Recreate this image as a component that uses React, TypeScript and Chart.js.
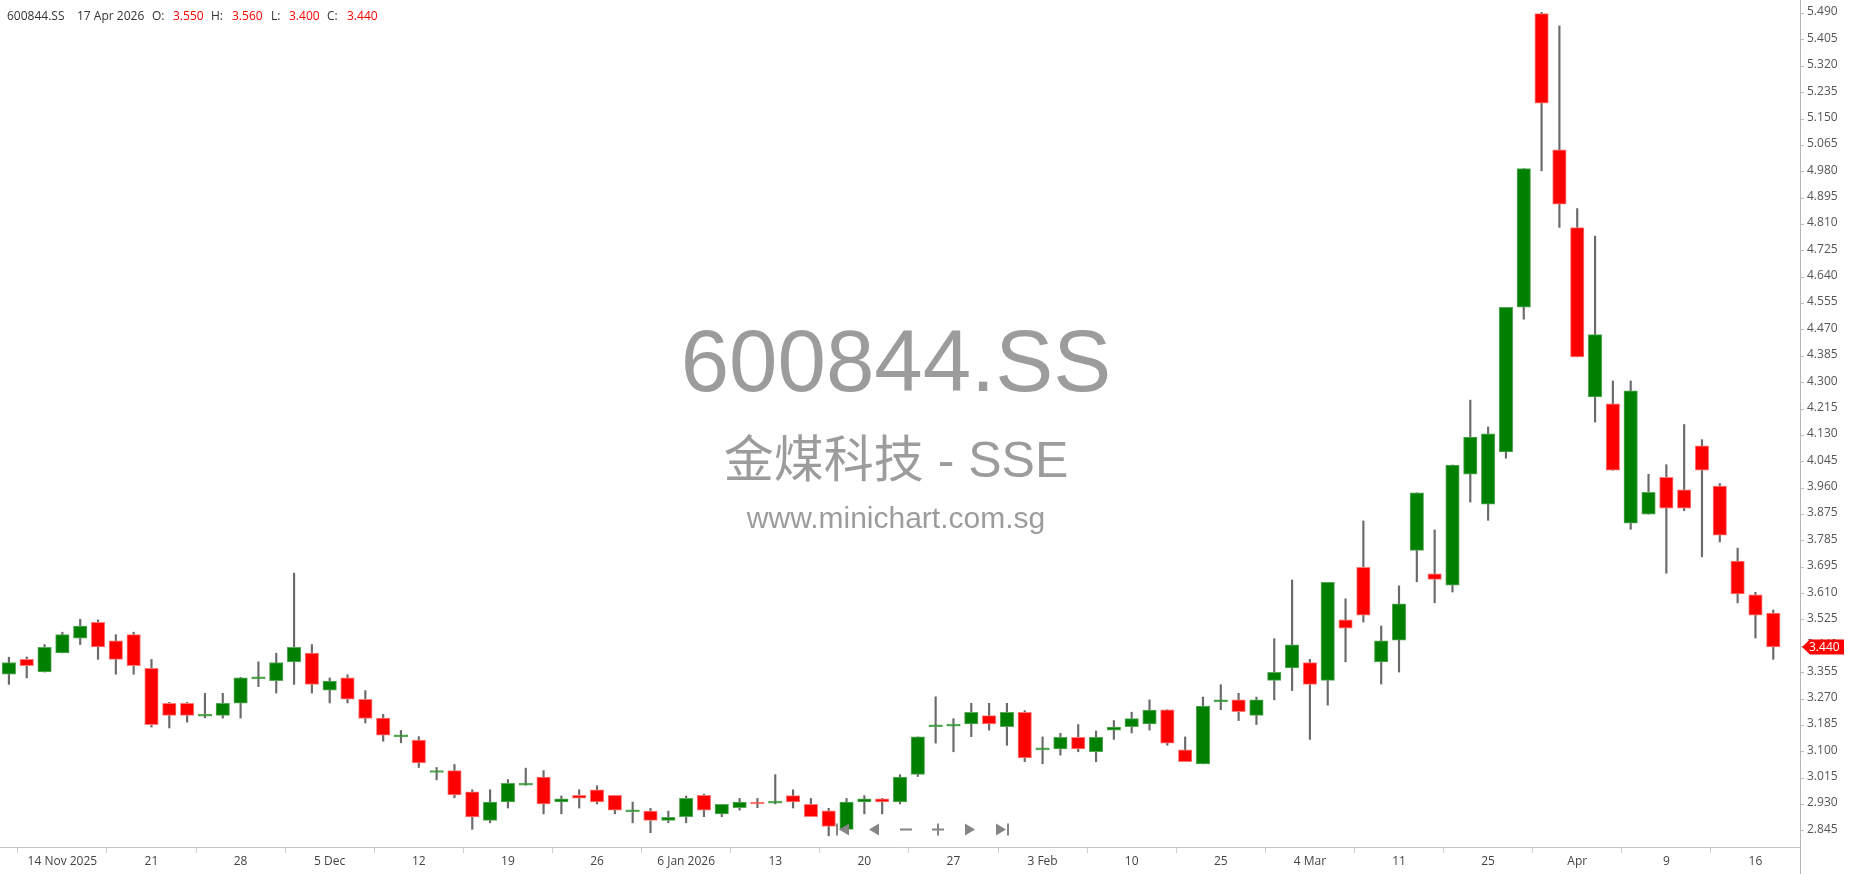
import React, { useEffect, useRef } from 'react';
import { Chart, registerables } from 'chart.js';

Chart.register(...registerables);

const symbol = '600844.SS';
const nameLine = '金煤科技 - SSE';
const siteLine = 'www.minichart.com.sg';
const lastDateLabel = '17 Apr 2026';

const dates = [
  '2025-11-11','2025-11-12','2025-11-13','2025-11-14','2025-11-17','2025-11-18','2025-11-19','2025-11-20','2025-11-21','2025-11-24',
  '2025-11-25','2025-11-26','2025-11-27','2025-11-28','2025-12-01','2025-12-02','2025-12-03','2025-12-04','2025-12-05','2025-12-08',
  '2025-12-09','2025-12-10','2025-12-11','2025-12-12','2025-12-15','2025-12-16','2025-12-17','2025-12-18','2025-12-19','2025-12-22',
  '2025-12-23','2025-12-24','2025-12-25','2025-12-26','2025-12-29','2025-12-30','2025-12-31','2026-01-05','2026-01-06','2026-01-07',
  '2026-01-08','2026-01-09','2026-01-12','2026-01-13','2026-01-14','2026-01-15','2026-01-16','2026-01-19','2026-01-20','2026-01-21',
  '2026-01-22','2026-01-23','2026-01-26','2026-01-27','2026-01-28','2026-01-29','2026-01-30','2026-02-02','2026-02-03','2026-02-04',
  '2026-02-05','2026-02-06','2026-02-09','2026-02-10','2026-02-11','2026-02-12','2026-02-13','2026-02-24','2026-02-25','2026-02-26',
  '2026-02-27','2026-03-02','2026-03-03','2026-03-04','2026-03-05','2026-03-06','2026-03-09','2026-03-10','2026-03-11','2026-03-19',
  '2026-03-20','2026-03-23','2026-03-24','2026-03-25','2026-03-26','2026-03-27','2026-03-30','2026-03-31','2026-04-01','2026-04-02',
  '2026-04-03','2026-04-07','2026-04-08','2026-04-09','2026-04-10','2026-04-13','2026-04-14','2026-04-15','2026-04-16','2026-04-17'
];

const opens = [
  3.352, 3.400, 3.359, 3.421, 3.469, 3.520, 3.460, 3.480, 3.371, 3.258,
  3.258, 3.216, 3.219, 3.258, 3.337, 3.331, 3.392, 3.420, 3.300, 3.340,
  3.271, 3.210, 3.149, 3.139, 3.034, 3.040, 2.971, 2.879, 2.939, 2.993,
  3.019, 2.939, 2.960, 2.978, 2.960, 2.907, 2.909, 2.879, 2.891, 2.960,
  2.900, 2.920, 2.938, 2.935, 2.959, 2.931, 2.910, 2.850, 2.939, 2.949,
  2.939, 3.028, 3.182, 3.184, 3.191, 3.218, 3.182, 3.229, 3.107, 3.110,
  3.148, 3.101, 3.171, 3.182, 3.191, 3.237, 3.107, 3.062, 3.262, 3.269,
  3.219, 3.332, 3.372, 3.390, 3.332, 3.528, 3.698, 3.392, 3.462, 3.753,
  3.677, 3.640, 3.999, 3.902, 4.071, 4.540, 5.490, 5.049, 4.797, 4.249,
  4.227, 3.841, 3.870, 3.989, 3.949, 4.091, 3.961, 3.718, 3.609, 3.550
];

const highs = [
  3.407, 3.408, 3.448, 3.488, 3.530, 3.528, 3.480, 3.488, 3.400, 3.261,
  3.261, 3.290, 3.290, 3.342, 3.392, 3.420, 3.679, 3.448, 3.340, 3.350,
  3.299, 3.222, 3.170, 3.150, 3.050, 3.060, 2.978, 2.978, 3.011, 3.048,
  3.040, 2.958, 2.978, 2.991, 2.960, 2.938, 2.918, 2.909, 2.958, 2.964,
  2.931, 2.950, 2.950, 3.027, 2.978, 2.950, 2.918, 2.950, 2.959, 2.950,
  3.027, 3.149, 3.279, 3.208, 3.258, 3.258, 3.258, 3.234, 3.149, 3.161,
  3.189, 3.168, 3.202, 3.229, 3.269, 3.237, 3.149, 3.278, 3.318, 3.290,
  3.278, 3.467, 3.657, 3.400, 3.649, 3.596, 3.848, 3.508, 3.638, 3.939,
  3.819, 4.029, 4.239, 4.152, 4.539, 4.988, 5.494, 5.450, 4.859, 4.770,
  4.301, 4.301, 3.999, 4.030, 4.160, 4.111, 3.969, 3.760, 3.617, 3.560
];

const lows = [
  3.319, 3.340, 3.359, 3.421, 3.448, 3.400, 3.352, 3.352, 3.181, 3.178,
  3.197, 3.211, 3.210, 3.210, 3.312, 3.291, 3.319, 3.291, 3.259, 3.259,
  3.194, 3.135, 3.130, 3.050, 3.010, 2.952, 2.850, 2.871, 2.919, 2.993,
  2.900, 2.900, 2.919, 2.932, 2.900, 2.871, 2.839, 2.871, 2.871, 2.891,
  2.891, 2.912, 2.920, 2.932, 2.919, 2.891, 2.829, 2.842, 2.900, 2.900,
  2.932, 3.021, 3.129, 3.101, 3.150, 3.171, 3.122, 3.069, 3.062, 3.090,
  3.101, 3.069, 3.141, 3.162, 3.171, 3.122, 3.069, 3.062, 3.237, 3.202,
  3.189, 3.269, 3.299, 3.141, 3.252, 3.392, 3.521, 3.320, 3.359, 3.651,
  3.583, 3.618, 3.909, 3.850, 4.051, 4.501, 4.981, 4.798, 4.379, 4.168,
  4.012, 3.821, 3.870, 3.679, 3.881, 3.732, 3.780, 3.583, 3.469, 3.400
];

const closes = [
  3.390, 3.380, 3.439, 3.480, 3.508, 3.440, 3.400, 3.380, 3.189, 3.219,
  3.219, 3.219, 3.258, 3.340, 3.341, 3.390, 3.439, 3.319, 3.330, 3.271,
  3.209, 3.155, 3.152, 3.065, 3.037, 2.961, 2.890, 2.938, 2.999, 2.999,
  2.932, 2.949, 2.951, 2.939, 2.912, 2.909, 2.879, 2.889, 2.950, 2.912,
  2.931, 2.938, 2.932, 2.937, 2.939, 2.891, 2.859, 2.938, 2.949, 2.939,
  3.019, 3.149, 3.186, 3.187, 3.229, 3.191, 3.229, 3.081, 3.109, 3.148,
  3.110, 3.148, 3.181, 3.208, 3.236, 3.129, 3.069, 3.249, 3.269, 3.231,
  3.269, 3.358, 3.447, 3.319, 3.649, 3.501, 3.543, 3.460, 3.580, 3.939,
  3.659, 4.029, 4.119, 4.130, 4.539, 4.988, 5.200, 4.873, 4.379, 4.451,
  4.012, 4.269, 3.941, 3.889, 3.889, 4.012, 3.802, 3.612, 3.543, 3.440
];

const xTickIndex = [3, 8, 13, 18, 23, 28, 33, 38, 43, 48, 53, 58, 63, 68, 73, 78, 83, 88, 93, 98];
const xTickLabels = ['14 Nov 2025', '21', '28', '5 Dec', '12', '19', '26', '6 Jan 2026', '13', '20', '27', '3 Feb', '10', '25', '4 Mar', '11', '25', 'Apr', '9', '16'];

const yTickLabels = [
  '2.845', '2.930', '3.015', '3.100', '3.185', '3.270', '3.355', '3.440', '3.525', '3.610',
  '3.695', '3.785', '3.875', '3.960', '4.045', '4.130', '4.215', '4.300', '4.385', '4.470',
  '4.555', '4.640', '4.725', '4.810', '4.895', '4.980', '5.065', '5.150', '5.235', '5.320',
  '5.405', '5.490'
];

const Y_MIN = 2.7928;
const Y_MAX = 5.5339;
const UP = '#008000';
const DOWN = '#ff0000';
const UP_EDGE = '#5aa85a';
const DOWN_EDGE = '#ff7a7a';

const overlayPlugin = {
  id: 'overlay',
  beforeDatasetsDraw(chart: any) {
    const ctx = chart.ctx;
    ctx.save();
    ctx.textAlign = 'center';
    ctx.textBaseline = 'middle';
    ctx.fillStyle = '#9c9c9c';
    ctx.font = '87px "Liberation Sans", Arial, sans-serif';
    ctx.fillText(symbol, 896, 367);
    ctx.font = '50px "Liberation Sans", "Noto Sans CJK SC", sans-serif';
    ctx.fillText(nameLine, 896, 463);
    ctx.font = '30px "Liberation Sans", Arial, sans-serif';
    ctx.fillText(siteLine, 896, 520);
    ctx.restore();
  },
  afterDraw(chart: any) {
    const ctx = chart.ctx;
    const a = chart.chartArea;
    const n = closes.length - 1;
    ctx.save();
    ctx.textBaseline = 'middle';
    ctx.textAlign = 'left';
    ctx.font = '12px "Open Sans", sans-serif';
    const hy = 17;
    const parts: [string, number, string][] = [
      [symbol, 7, '#333'],
      [lastDateLabel, 77, '#333'],
      ['O:', 152, '#333'],
      [opens[n].toFixed(3), 173, '#ff0000'],
      ['H:', 211, '#333'],
      [highs[n].toFixed(3), 232, '#ff0000'],
      ['L:', 271, '#333'],
      [lows[n].toFixed(3), 289, '#ff0000'],
      ['C:', 327, '#333'],
      [closes[n].toFixed(3), 347, '#ff0000'],
    ];
    parts.forEach(([t, x, c]) => {
      ctx.fillStyle = c;
      ctx.fillText(t, x, hy);
    });

    ctx.strokeStyle = '#b5b5b5';
    ctx.lineWidth = 1;
    ctx.beginPath();
    ctx.moveTo(a.right + 0.5, a.bottom);
    ctx.lineTo(a.right + 0.5, chart.height);
    ctx.stroke();

    ctx.fillStyle = '#858585';
    const ny = 829.5;
    ctx.fillRect(836, ny - 6, 2, 12);
    ctx.beginPath();
    ctx.moveTo(839, ny);
    ctx.lineTo(849, ny - 6);
    ctx.lineTo(849, ny + 6);
    ctx.closePath();
    ctx.fill();
    ctx.beginPath();
    ctx.moveTo(869, ny);
    ctx.lineTo(879, ny - 6);
    ctx.lineTo(879, ny + 6);
    ctx.closePath();
    ctx.fill();
    ctx.fillRect(900, ny - 1, 12, 2);
    ctx.fillRect(932, ny - 1, 12, 2);
    ctx.fillRect(937, ny - 6, 2, 12);
    ctx.beginPath();
    ctx.moveTo(975, ny);
    ctx.lineTo(965, ny - 6);
    ctx.lineTo(965, ny + 6);
    ctx.closePath();
    ctx.fill();
    ctx.beginPath();
    ctx.moveTo(1006, ny);
    ctx.lineTo(996, ny - 6);
    ctx.lineTo(996, ny + 6);
    ctx.closePath();
    ctx.fill();
    ctx.fillRect(1007, ny - 6, 2, 12);

    const py = chart.scales.y.getPixelForValue(closes[n]);
    const x0 = a.right + 2;
    ctx.fillStyle = '#ff0000';
    ctx.beginPath();
    ctx.moveTo(x0, py);
    ctx.lineTo(x0 + 8, py - 7.5);
    ctx.lineTo(chart.width - 6, py - 7.5);
    ctx.lineTo(chart.width - 6, py + 7.5);
    ctx.lineTo(x0 + 8, py + 7.5);
    ctx.closePath();
    ctx.fill();
    ctx.fillStyle = '#ffffff';
    ctx.font = '12px "Open Sans", sans-serif';
    ctx.textAlign = 'left';
    ctx.fillText(closes[n].toFixed(3), x0 + 7, py + 0.5);
    ctx.restore();
  },
};

export default function App() {
  const ref = useRef<HTMLCanvasElement>(null);

  useEffect(() => {
    document.body.style.margin = '0';
    const bodyData = dates.map((_, i) => ({ x: i, y: [opens[i], closes[i]] }));
    const wickData = dates.map((_, i) => ({ x: i, y: [lows[i], highs[i]] }));
    const bodyColors = dates.map((_, i) => (closes[i] >= opens[i] ? UP : DOWN));
    const edgeColors = dates.map((_, i) => (closes[i] >= opens[i] ? UP_EDGE : DOWN_EDGE));
    const yStep = (5.49 - 2.845) / (yTickLabels.length - 1);

    const chart = new Chart(ref.current as HTMLCanvasElement, {
      type: 'bar',
      data: {
        datasets: [
          {
            label: 'wick',
            data: wickData as any,
            backgroundColor: '#6a6a6a',
            barThickness: 1.5,
            grouped: false,
            order: 2,
          } as any,
          {
            label: 'body',
            data: bodyData as any,
            backgroundColor: bodyColors,
            borderColor: edgeColors,
            borderWidth: 1,
            borderSkipped: false,
            barThickness: 13.5,
            minBarLength: 2,
            grouped: false,
            order: 1,
          } as any,
        ],
      },
      options: {
        responsive: false,
        animation: false,
        devicePixelRatio: 1,
        layout: { padding: 0 },
        plugins: {
          legend: { display: false },
          tooltip: { enabled: false },
        },
        scales: {
          x: {
            type: 'linear',
            min: -0.5,
            max: 100.5,
            offset: false,
            position: 'bottom',
            afterBuildTicks: (s: any) => {
              s.ticks = xTickIndex.map((v) => ({ value: v }));
            },
            afterFit: (s: any) => {
              s.height = 27;
              s.paddingLeft = 0;
              s.paddingRight = 0;
            },
            ticks: {
              autoSkip: false,
              maxRotation: 0,
              padding: 1,
              color: '#444',
              font: { family: '"Open Sans", sans-serif', size: 12 },
              callback: (v: any) => {
                const k = xTickIndex.indexOf(Math.round(Number(v)));
                return k >= 0 ? xTickLabels[k] : '';
              },
            },
            grid: { display: true, drawOnChartArea: false, drawTicks: true, tickLength: 6, color: '#cfcfcf' },
            border: { display: true, color: '#c4c4c4' },
          },
          y: {
            type: 'linear',
            position: 'right',
            min: Y_MIN,
            max: Y_MAX,
            afterBuildTicks: (s: any) => {
              s.ticks = yTickLabels.map((_, i) => ({ value: 2.845 + i * yStep }));
            },
            afterFit: (s: any) => {
              s.width = 50;
              s.paddingTop = 0;
              s.paddingBottom = 0;
            },
            ticks: {
              autoSkip: false,
              padding: 3,
              labelOffset: -1.5,
              color: '#555',
              font: { family: '"Open Sans", sans-serif', size: 12 },
              callback: (_v: any, i: number) => yTickLabels[i],
            },
            grid: { display: true, drawOnChartArea: false, drawTicks: true, tickLength: 4, color: '#bdbdbd' },
            border: { display: true, color: '#b5b5b5' },
          },
        },
      } as any,
      plugins: [overlayPlugin],
    });
    return () => chart.destroy();
  }, []);

  return (
    <div style={{ width: 1850, height: 874, position: 'relative', background: '#fff' }}>
      <canvas ref={ref} width={1850} height={874} style={{ display: 'block', width: 1850, height: 874 }} />
    </div>
  );
}
